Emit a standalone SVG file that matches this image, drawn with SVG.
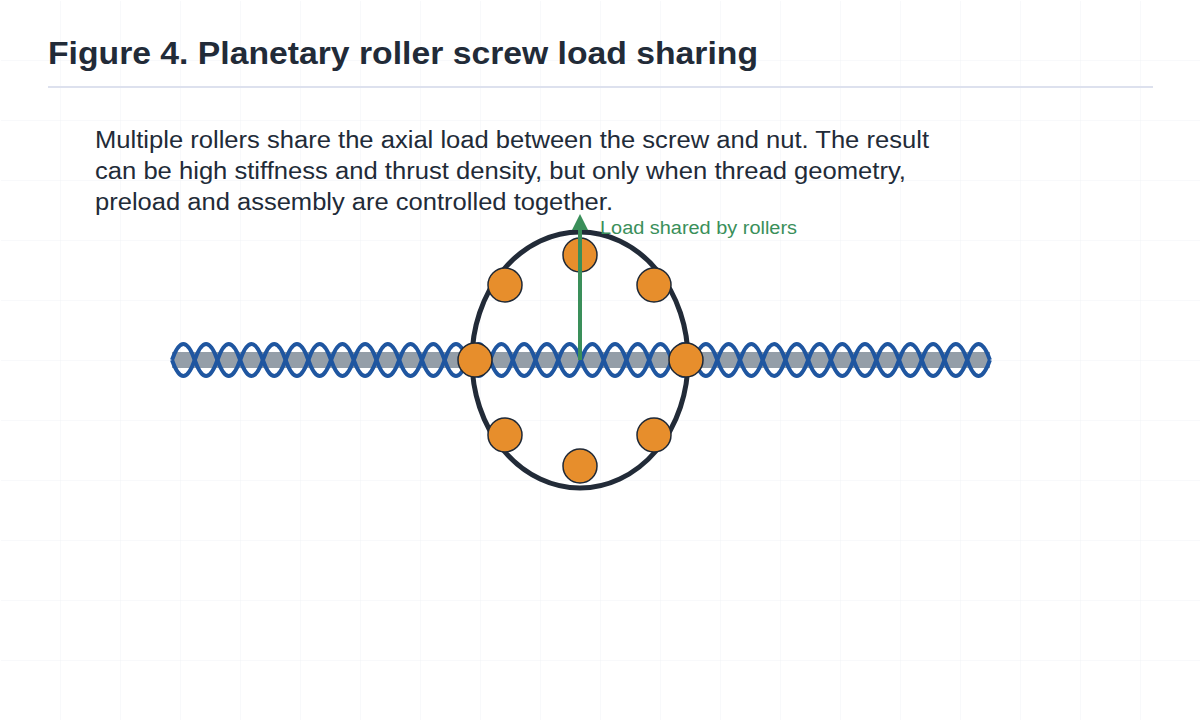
<svg xmlns="http://www.w3.org/2000/svg" width="1200" height="720" viewBox="0 0 1200 720">
<defs>
<pattern id="grid" width="60" height="60" patternUnits="userSpaceOnUse"><path d="M60 0V60M0 60H60" fill="none" stroke="#f1f3f6" stroke-width="1"/></pattern>
<marker id="ah" viewBox="0 0 10 10" refX="5" refY="5" markerWidth="4" markerHeight="4" orient="auto"><path d="M0,0L10,5L0,10Z" fill="#3a8f5a"/></marker>
</defs>
<style>
.roller{fill:#e78e2c;stroke:#1f2937;stroke-width:1.5}
.helix{fill:none;stroke:#1f56a0;stroke-width:4}
text{font-family:"Liberation Sans",Arial,sans-serif}
</style>
<rect width="1200" height="720" fill="#fff"/>
<rect x="0" y="0" width="1200" height="720" fill="url(#grid)" transform="translate(1,1)"/>
<text x="48" y="64" font-size="31" font-weight="bold" fill="#222b38" textLength="710" lengthAdjust="spacingAndGlyphs">Figure 4. Planetary roller screw load sharing</text>
<line x1="48" y1="87" x2="1153" y2="87" stroke="#dde1ee" stroke-width="2"/>
<g id="caption" font-size="23" fill="#222b38">
<text x="95" y="148" textLength="834" lengthAdjust="spacingAndGlyphs">Multiple rollers share the axial load between the screw and nut. The result</text>
<text x="95" y="179" textLength="811" lengthAdjust="spacingAndGlyphs">can be high stiffness and thrust density, but only when thread geometry,</text>
<text x="95" y="210" textLength="518" lengthAdjust="spacingAndGlyphs">preload and assembly are controlled together.</text>
</g>
<g id="screw">
<rect x="172" y="352" width="818" height="16" fill="#949ea8"/>
<path class="helix" d="M172,360 q11.36,-32 22.72,0 t22.72,0 t22.72,0 t22.72,0 t22.72,0 t22.72,0 t22.72,0 t22.72,0 t22.72,0 t22.72,0 t22.72,0 t22.72,0 t22.72,0 t22.72,0 t22.72,0 t22.72,0 t22.72,0 t22.72,0 t22.72,0 t22.72,0 t22.72,0 t22.72,0 t22.72,0 t22.72,0 t22.72,0 t22.72,0 t22.72,0 t22.72,0 t22.72,0 t22.72,0 t22.72,0 t22.72,0 t22.72,0 t22.72,0 t22.72,0 t22.72,0"/>
<path class="helix" d="M172,360 q11.36,32 22.72,0 t22.72,0 t22.72,0 t22.72,0 t22.72,0 t22.72,0 t22.72,0 t22.72,0 t22.72,0 t22.72,0 t22.72,0 t22.72,0 t22.72,0 t22.72,0 t22.72,0 t22.72,0 t22.72,0 t22.72,0 t22.72,0 t22.72,0 t22.72,0 t22.72,0 t22.72,0 t22.72,0 t22.72,0 t22.72,0 t22.72,0 t22.72,0 t22.72,0 t22.72,0 t22.72,0 t22.72,0 t22.72,0 t22.72,0 t22.72,0 t22.72,0"/>
</g>
<g id="nut"><ellipse cx="580" cy="360" rx="108" ry="128" fill="none" stroke="#222b38" stroke-width="5"/></g>
<g id="rollers">
<circle class="roller" cx="580" cy="255" r="17"/>
<circle class="roller" cx="505" cy="285" r="17"/>
<circle class="roller" cx="654" cy="285" r="17"/>
<circle class="roller" cx="475" cy="360" r="17"/>
<circle class="roller" cx="686" cy="360" r="17"/>
<circle class="roller" cx="505" cy="435" r="17"/>
<circle class="roller" cx="654" cy="435" r="17"/>
<circle class="roller" cx="580" cy="466" r="17"/>
</g>
<g id="connectors"><line x1="580" y1="360" x2="580" y2="222" stroke="#3a8f5a" stroke-width="4" marker-end="url(#ah)"/></g>
<text x="600" y="234" font-size="18" fill="#3a8f5a" textLength="197" lengthAdjust="spacingAndGlyphs">Load shared by rollers</text>
</svg>
